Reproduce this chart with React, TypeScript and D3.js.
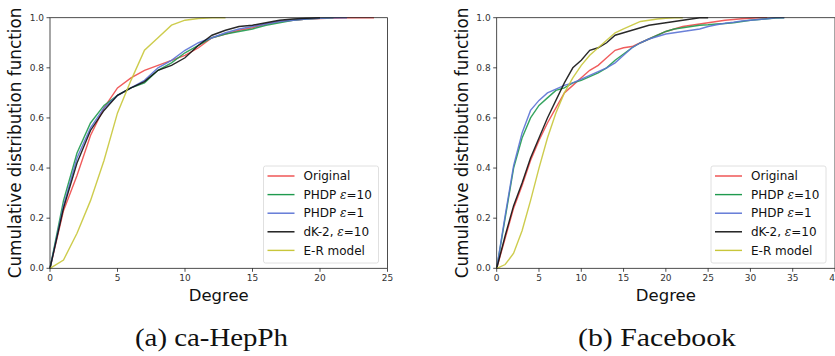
import React from "react";
import * as d3 from "d3";

const seriesNames = ["Original", "PHDP ε=10", "PHDP ε=1", "dK-2, ε=10", "E-R model"];
const colors = ["#ee4a4a", "#1f9a4e", "#5a72d4", "#111111", "#c8c63a"];

// ca-HepPh CDF values, degree 0, 1, 2, ...
const hepOriginal = [0, 0.23, 0.37, 0.53, 0.64, 0.72, 0.76, 0.79, 0.81, 0.83, 0.85, 0.88, 0.92, 0.935, 0.95, 0.96, 0.975, 0.985, 0.99, 0.995, 0.997, 0.999, 1, 1, 1];
const hepPhdp10 = [0, 0.27, 0.46, 0.58, 0.65, 0.69, 0.72, 0.74, 0.79, 0.82, 0.86, 0.89, 0.92, 0.935, 0.945, 0.955, 0.97, 0.98, 0.99, 0.995, 0.998, 1];
const hepPhdp1 = [0, 0.25, 0.44, 0.56, 0.64, 0.69, 0.72, 0.75, 0.8, 0.83, 0.87, 0.9, 0.92, 0.94, 0.955, 0.965, 0.975, 0.985, 0.99, 0.995, 0.998, 1, 1];
const hepDk2 = [0, 0.24, 0.42, 0.55, 0.63, 0.69, 0.72, 0.745, 0.79, 0.81, 0.84, 0.89, 0.93, 0.95, 0.965, 0.97, 0.98, 0.99, 0.995, 0.998, 1];
const hepER = [0, 0.033, 0.14, 0.27, 0.43, 0.62, 0.75, 0.87, 0.92, 0.97, 0.99, 0.997, 1, 1];

// Facebook CDF values
const fbOriginal = [0, 0.12, 0.24, 0.33, 0.43, 0.51, 0.58, 0.64, 0.7, 0.73, 0.76, 0.79, 0.81, 0.84, 0.87, 0.88, 0.885, 0.9, 0.915, 0.93, 0.945, 0.955, 0.965, 0.97, 0.975, 0.98, 0.985, 0.99, 0.993, 0.996, 0.998, 1, 1];
const fbPhdp10 = [0, 0.2, 0.4, 0.52, 0.6, 0.65, 0.68, 0.71, 0.72, 0.74, 0.75, 0.765, 0.78, 0.8, 0.83, 0.855, 0.88, 0.9, 0.915, 0.93, 0.945, 0.955, 0.96, 0.965, 0.97, 0.972, 0.975, 0.977, 0.98, 0.985, 0.99, 0.993, 0.996, 0.999, 1];
const fbPhdp1 = [0, 0.21, 0.41, 0.54, 0.63, 0.67, 0.7, 0.715, 0.73, 0.74, 0.755, 0.77, 0.785, 0.8, 0.82, 0.85, 0.88, 0.9, 0.915, 0.925, 0.935, 0.94, 0.945, 0.95, 0.955, 0.965, 0.972, 0.978, 0.982, 0.987, 0.99, 0.993, 0.996, 1, 1];
const fbDk2 = [0, 0.13, 0.25, 0.34, 0.44, 0.52, 0.6, 0.67, 0.74, 0.8, 0.83, 0.87, 0.88, 0.9, 0.93, 0.94, 0.95, 0.96, 0.97, 0.975, 0.98, 0.985, 0.99, 0.995, 1, 1];
const fbER = [0, 0.015, 0.06, 0.15, 0.27, 0.4, 0.52, 0.62, 0.7, 0.76, 0.81, 0.85, 0.88, 0.91, 0.94, 0.955, 0.97, 0.985, 0.99, 0.995, 0.998, 1, 1];

const hepXTicks = [0, 5, 10, 15, 20, 25];
const fbXTicks = [0, 5, 10, 15, 20, 25, 30, 35, 40];
const yTicks = [0, 0.2, 0.4, 0.6, 0.8, 1.0];

const panels = [
  { caption: "(a) ca-HepPh", capX: 211.5, capW: 153, xMax: 25, xTicks: hepXTicks, series: [hepOriginal, hepPhdp10, hepPhdp1, hepDk2, hepER], left: 50, right: 387.5, labelX: 15 },
  { caption: "(b) Facebook", capX: 657, capW: 158, xMax: 40, xTicks: fbXTicks, series: [fbOriginal, fbPhdp10, fbPhdp1, fbDk2, fbER], left: 496.7, right: 835, labelX: 462 },
];

const top = 17.7, bottom = 268.3;
const sans = "DejaVu Sans, sans-serif";

function Panel({ p }: { p: typeof panels[0] }) {
  const x = d3.scaleLinear().domain([0, p.xMax]).range([p.left, p.right]);
  const y = d3.scaleLinear().domain([0, 1]).range([bottom, top]);
  const line = d3.line<number>().x((_, i) => x(i)).y(d => y(d));
  const lx = p.right - 120, ly = 166;
  return (
    <g>
      {p.series.map((s, i) => (
        <path key={i} d={line(s) || ""} fill="none" stroke={colors[i]} strokeWidth={1.4} strokeOpacity={0.9} />
      ))}
      <rect x={p.left} y={top} width={p.right - p.left} height={bottom - top} fill="none" stroke="#222" strokeWidth={0.8} />
      {p.xTicks.map(t => (
        <g key={t} transform={`translate(${x(t)},${bottom})`}>
          <line y2={3.5} stroke="#222" strokeWidth={0.8} />
          <text y={13} textAnchor="middle" fontSize={9} fill="#333" fontFamily={sans}>{t}</text>
        </g>
      ))}
      {yTicks.map(t => (
        <g key={t} transform={`translate(${p.left},${y(t)})`}>
          <line x2={-3.5} stroke="#222" strokeWidth={0.8} />
          <text x={-6} dy="0.32em" textAnchor="end" fontSize={9} fill="#333" fontFamily={sans}>{t.toFixed(1)}</text>
        </g>
      ))}
      <text x={(p.left + p.right) / 2} y={301} textAnchor="middle" fontSize={16.5} fill="#111" fontFamily={sans}>Degree</text>
      <text transform={`translate(${p.labelX},${(top + bottom) / 2}) rotate(-90)`} dy="0.35em" textAnchor="middle" fontSize={16.8} fill="#111" fontFamily={sans}>Cumulative distribution function</text>
      <rect x={lx - 4} y={ly} width={115} height={97} rx={2} fill="white" fillOpacity={0.85} stroke="#d8d8d8" strokeWidth={0.8} />
      {seriesNames.map((n, i) => (
        <g key={n} transform={`translate(${lx},${ly + 10 + i * 18.6})`}>
          <line x1={0} x2={27} stroke={colors[i]} strokeWidth={1.4} />
          <text x={36} dy="0.35em" fontSize={12} fill="#111" fontFamily={sans}>
            {n.includes("ε") ? (
              <>
                {n.split("ε")[0]}
                <tspan fontStyle="italic" fontFamily="DejaVu Serif, serif">ε</tspan>
                {n.split("ε")[1]}
              </>
            ) : n}
          </text>
        </g>
      ))}
      <text x={p.capX - p.capW / 2} y={346} textLength={p.capW} lengthAdjust="spacingAndGlyphs" fontSize={25} fill="#111" fontFamily="Liberation Serif, serif">{p.caption}</text>
    </g>
  );
}

export default function App() {
  return (
    <svg width={835} height={356} style={{ position: "absolute", left: 0, top: 0 }}>
      <rect width={835} height={356} fill="white" />
      {panels.map(p => <Panel key={p.caption} p={p} />)}
    </svg>
  );
}
